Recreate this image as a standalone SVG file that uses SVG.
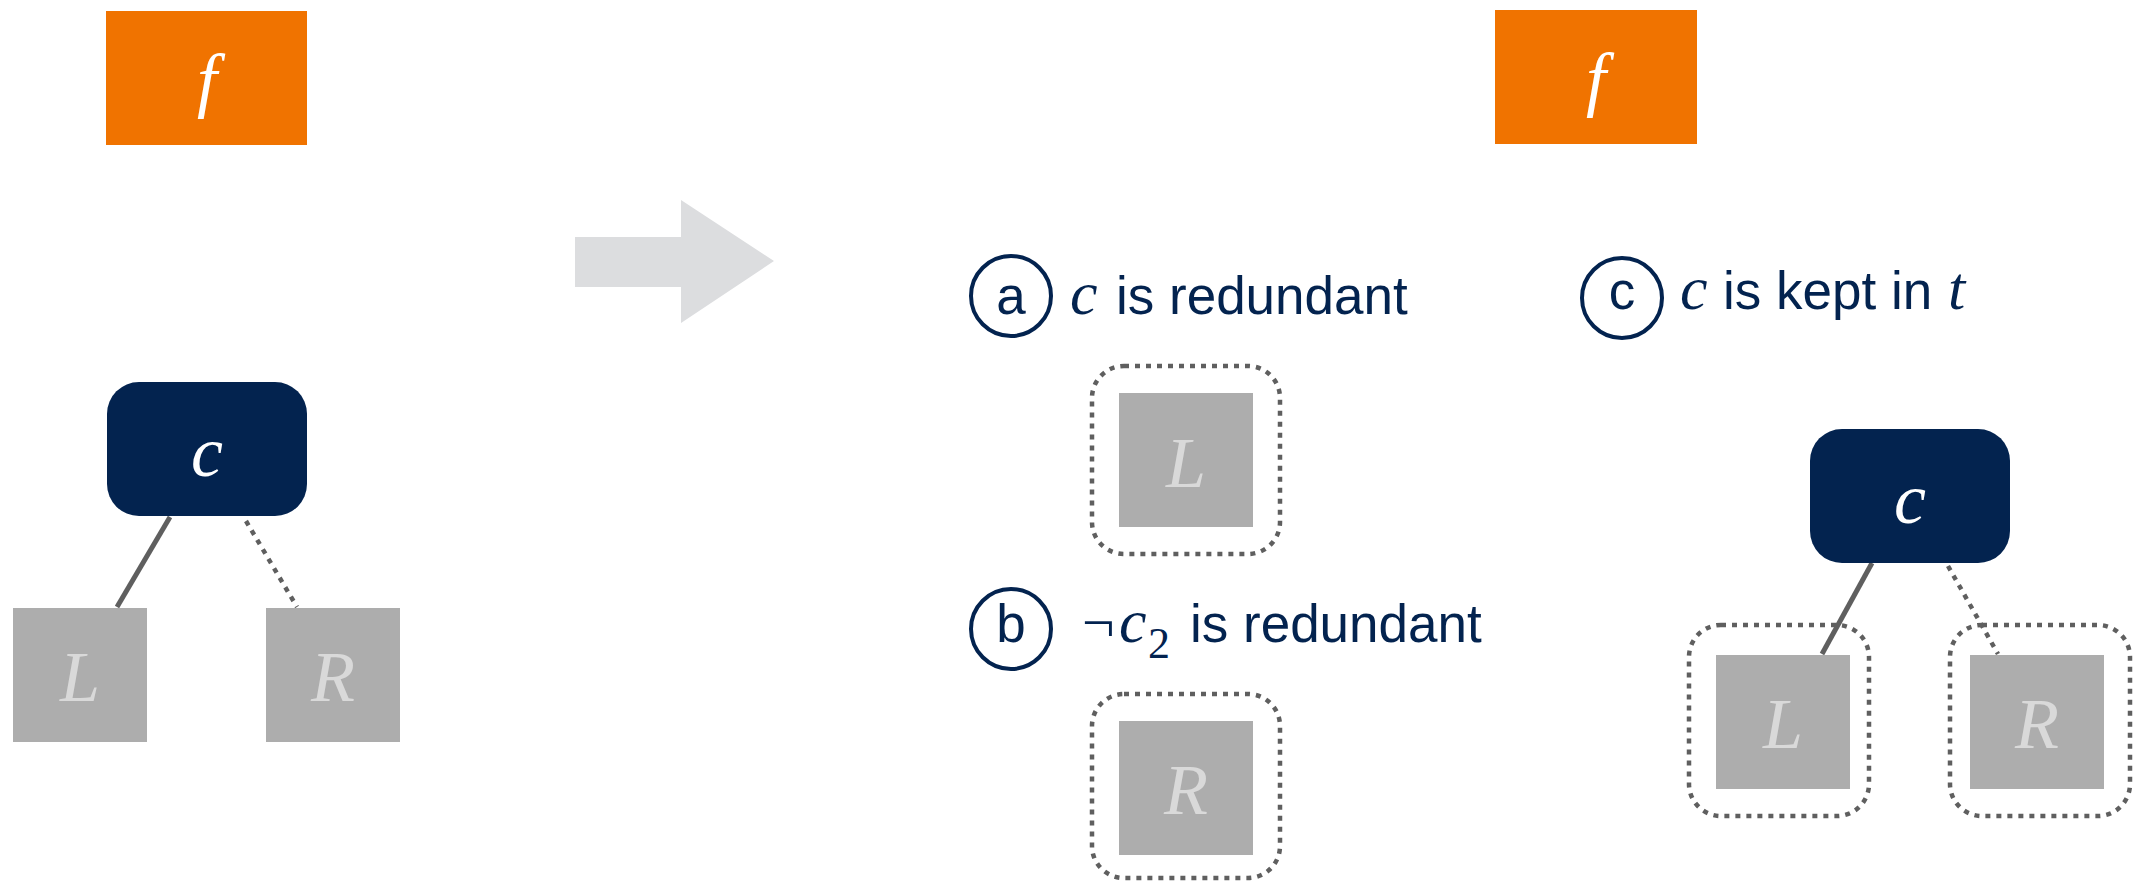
<svg xmlns="http://www.w3.org/2000/svg" width="2134" height="882" viewBox="0 0 2134 882">
<style>
.bg{fill:#ffffff}
.fbox{fill:#F07300}
.cbox{fill:#03234F}
.gbox{fill:#ADADAD}
.math{font-family:"Liberation Serif","DejaVu Serif",serif;font-style:italic;font-size:72px;text-anchor:middle}
.mw{fill:#ffffff}
.mg{fill:#D9D9D9}
.solid{stroke:#5F5F5F;stroke-width:5;fill:none}
.dot{stroke:#5F5F5F;stroke-width:4.5;fill:none;stroke-dasharray:5 6}
.ring{fill:none;stroke:#03234F;stroke-width:4}
.lab{font-family:"Liberation Sans","Arimo",Arial,sans-serif;font-size:53px;fill:#03234F}
.lm{font-family:"Liberation Serif","DejaVu Serif",serif;font-style:italic;font-size:62px;fill:#03234F}
.ls{font-family:"Liberation Serif","DejaVu Serif",serif;font-size:44px;fill:#03234F}
</style>
<rect class="bg" x="0" y="0" width="2134" height="882"/>

<g id="arrow">
<polygon points="575,237 681,237 681,200 774,261 681,323 681,287 575,287" fill="#DCDDDF"/>
</g>

<g id="connectors">
<line class="solid" x1="170" y1="517" x2="117" y2="607"/>
<line class="dot" x1="246" y1="521" x2="297" y2="607"/>
<line class="solid" x1="1872" y1="563" x2="1822" y2="654"/>
<line class="dot" x1="1948" y1="566" x2="1998" y2="654"/>
</g>

<g id="left-f">
<rect class="fbox" x="106" y="11" width="201" height="134"/>
<text class="math mw" x="207" y="104">f</text>
</g>
<g id="left-c">
<rect class="cbox" x="107" y="382" width="200" height="134" rx="32" ry="32"/>
<text class="math mw" x="207" y="476">c</text>
</g>
<g id="left-L">
<rect class="gbox" x="13" y="608" width="134" height="134"/>
<text class="math mg" x="80" y="701">L</text>
</g>
<g id="left-R">
<rect class="gbox" x="266" y="608" width="134" height="134"/>
<text class="math mg" x="333" y="701">R</text>
</g>

<g id="right-f">
<rect class="fbox" x="1495" y="10" width="202" height="134"/>
<text class="math mw" x="1596" y="103">f</text>
</g>

<g id="label-a">
<circle class="ring" cx="1011" cy="296" r="40"/>
<text class="lab" x="1011" y="314" text-anchor="middle">a</text>
<text y="314"><tspan class="lm" x="1070">c</tspan><tspan class="lab" x="1116">is redundant</tspan></text>
</g>
<g id="mid-L">
<rect class="dot" x="1092" y="366" width="188" height="188" rx="32" ry="32"/>
<rect class="gbox" x="1119" y="393" width="134" height="134"/>
<text class="math mg" x="1186" y="487">L</text>
</g>

<g id="label-b">
<circle class="ring" cx="1011" cy="629" r="40"/>
<text class="lab" x="1011" y="642" text-anchor="middle">b</text>
<text y="642"><tspan class="ls" x="1082" style="font-size:58px">¬</tspan><tspan class="lm" x="1119">c</tspan><tspan class="ls" x="1148" y="658">2</tspan><tspan class="lab" x="1190" y="642">is redundant</tspan></text>
</g>
<g id="mid-R">
<rect class="dot" x="1092" y="694" width="188" height="184" rx="32" ry="32"/>
<rect class="gbox" x="1119" y="721" width="134" height="134"/>
<text class="math mg" x="1186" y="814">R</text>
</g>

<g id="label-c">
<circle class="ring" cx="1622" cy="298" r="40"/>
<text class="lab" x="1622" y="309" text-anchor="middle">c</text>
<text y="309"><tspan class="lm" x="1680">c</tspan><tspan class="lab" x="1723">is kept in</tspan><tspan class="lm" x="1948">t</tspan></text>
</g>

<g id="right-c">
<rect class="cbox" x="1810" y="429" width="200" height="134" rx="32" ry="32"/>
<text class="math mw" x="1910" y="523">c</text>
</g>
<g id="right-L">
<rect class="dot" x="1689" y="625" width="180" height="191" rx="32" ry="32"/>
<rect class="gbox" x="1716" y="655" width="134" height="134"/>
<text class="math mg" x="1783" y="748">L</text>
</g>
<g id="right-R">
<rect class="dot" x="1950" y="625" width="180" height="191" rx="32" ry="32"/>
<rect class="gbox" x="1970" y="655" width="134" height="134"/>
<text class="math mg" x="2037" y="748">R</text>
</g>
</svg>
